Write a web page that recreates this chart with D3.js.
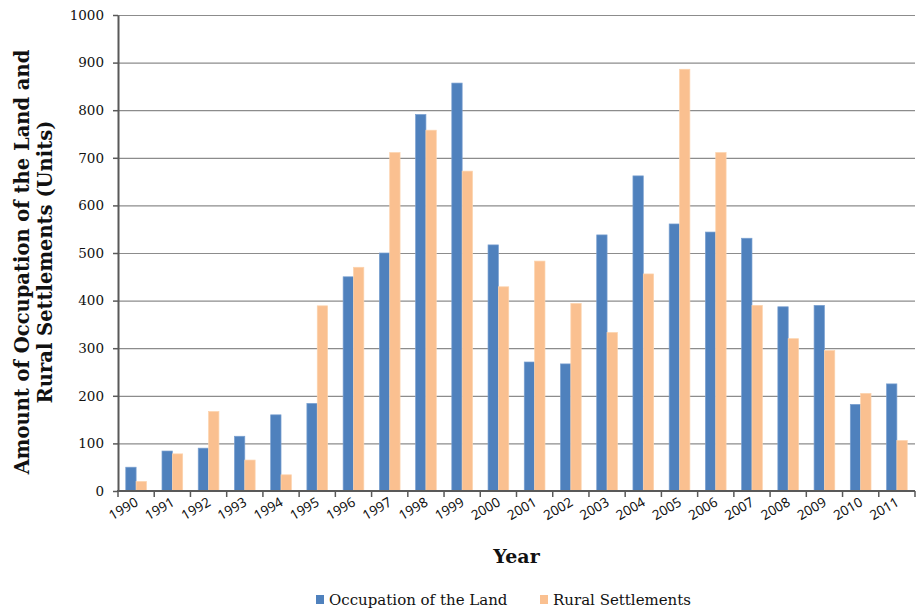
<!DOCTYPE html>
<html>
<head>
<meta charset="utf-8">
<script src="https://cdn.jsdelivr.net/npm/d3@7"></script>
<style>
  body { margin: 0; background: #fff; }
</style>
</head>
<body>
<div id="chart"></div>
<script>
// values
const years = ["1990", "1991", "1992", "1993", "1994", "1995", "1996", "1997", "1998", "1999", "2000",
  "2001", "2002", "2003", "2004", "2005", "2006", "2007", "2008", "2009", "2010", "2011"];
const occupation = [50, 84, 90, 115, 160, 184, 450, 500, 791, 857, 517, 271, 267, 538, 662, 561, 544, 531, 387, 390, 182, 225];
const rural = [20, 78, 167, 65, 34, 389, 470, 711, 758, 672, 429, 483, 394, 333, 456, 886, 711, 390, 320, 295, 205, 106];
const seriesNames = ["Occupation of the Land", "Rural Settlements"];
const yTicks = [0, 100, 200, 300, 400, 500, 600, 700, 800, 900, 1000];

const width = 917;
const height = 608;
const margin = { top: 15, right: 2, bottom: 117, left: 118 };

const color = d3.scaleOrdinal()
  .domain(seriesNames)
  .range(["#4f81bd", "#fac090"]);
const stroke = d3.scaleOrdinal()
  .domain(seriesNames)
  .range(["#7aa0d0", "#fcd3ad"]);

const data = years.map((y, i) => ({
  year: y,
  values: [
    { name: seriesNames[0], value: occupation[i] },
    { name: seriesNames[1], value: rural[i] }
  ]
}));

const svg = d3.select("#chart")
  .append("svg")
  .attr("width", width)
  .attr("height", height);

const x = d3.scaleBand()
  .domain(years)
  .range([margin.left, width - margin.right]);

// Excel gap width 150%
const xSub = d3.scaleBand()
  .domain(seriesNames)
  .range([0, x.bandwidth()])
  .paddingOuter(0.75);

const y = d3.scaleLinear()
  .domain([0, 1000])
  .range([height - margin.bottom, margin.top]);

// gridlines
svg.append("g")
  .selectAll("line")
  .data(yTicks.filter(d => d > 0))
  .enter().append("line")
  .attr("x1", margin.left)
  .attr("x2", width - margin.right)
  .attr("y1", d => y(d) + 0.5)
  .attr("y2", d => y(d) + 0.5)
  .attr("stroke", "#8c8c8c")
  .attr("stroke-width", 1.2);

// bars
const groups = svg.append("g")
  .selectAll("g")
  .data(data)
  .enter().append("g")
  .attr("transform", d => `translate(${x(d.year)},0)`);

groups.selectAll("rect")
  .data(d => d.values)
  .enter().append("rect")
  .attr("x", d => xSub(d.name))
  .attr("width", xSub.bandwidth())
  .attr("y", d => y(d.value))
  .attr("height", d => y(0) - y(d.value))
  .attr("fill", d => color(d.name))
  .attr("stroke", d => stroke(d.name))
  .attr("stroke-width", 0.7);

// y axis
const yAxis = svg.append("g")
  .attr("transform", `translate(${margin.left},0)`)
  .call(d3.axisLeft(y).tickValues(yTicks).tickFormat(d3.format("d"))
    .tickSize(5).tickPadding(9).tickSizeOuter(0));

yAxis.select(".domain").attr("stroke", "#595959").attr("stroke-width", 2);
yAxis.selectAll(".tick line").attr("stroke", "#595959").attr("stroke-width", 1.5);
yAxis.selectAll(".tick text")
  .attr("font-family", "'DejaVu Serif', serif")
  .attr("font-size", "13.5px")
  .attr("fill", "#111");

// x axis line and ticks at band edges
const xAxisG = svg.append("g");
xAxisG.append("line")
  .attr("x1", margin.left - 1)
  .attr("x2", width - margin.right)
  .attr("y1", y(0))
  .attr("y2", y(0))
  .attr("stroke", "#595959")
  .attr("stroke-width", 2);

const edges = years.map(d => x(d)).concat([x(years[years.length - 1]) + x.bandwidth()]);
xAxisG.selectAll("line.tk")
  .data(edges)
  .enter().append("line")
  .attr("class", "tk")
  .attr("x1", d => d)
  .attr("x2", d => d)
  .attr("y1", y(0))
  .attr("y2", y(0) + 6)
  .attr("stroke", "#595959")
  .attr("stroke-width", 1.5);

xAxisG.selectAll("text")
  .data(years)
  .enter().append("text")
  .attr("transform", d => `translate(${x(d) + x.bandwidth() / 2 + 3},${y(0) + 14}) rotate(-30)`)
  .attr("text-anchor", "end")
  .attr("font-family", "'Noto Sans', sans-serif")
  .attr("font-size", "13.5px")
  .attr("fill", "#111")
  .text(d => d);

// axis titles
svg.append("text")
  .attr("x", (margin.left + width - margin.right) / 2)
  .attr("y", 563)
  .attr("text-anchor", "middle")
  .attr("font-family", "'DejaVu Serif', serif")
  .attr("font-weight", "bold")
  .attr("font-size", "19px")
  .attr("fill", "#111")
  .text("Year");

const yTitle = svg.append("text")
  .attr("transform", "translate(29,262) rotate(-90)")
  .attr("text-anchor", "middle")
  .attr("font-family", "'DejaVu Serif', serif")
  .attr("font-weight", "bold")
  .attr("font-size", "19.5px")
  .attr("fill", "#111");
yTitle.append("tspan").attr("x", 0).attr("dy", 0).text("Amount of Occupation of the Land and");
yTitle.append("tspan").attr("x", 0).attr("dy", 23).text("Rural Settlements (Units)");

// legend
const legendItems = [
  { name: seriesNames[0], x: 316 },
  { name: seriesNames[1], x: 540 }
];
const legend = svg.append("g")
  .selectAll("g")
  .data(legendItems)
  .enter().append("g")
  .attr("transform", d => `translate(${d.x},595)`);

legend.append("rect")
  .attr("width", 8)
  .attr("height", 9)
  .attr("fill", d => color(d.name));

legend.append("text")
  .attr("x", 13)
  .attr("y", 10)
  .attr("font-family", "'DejaVu Serif', serif")
  .attr("font-size", "15px")
  .attr("fill", "#111")
  .text(d => d.name);
</script>
</body>
</html>
